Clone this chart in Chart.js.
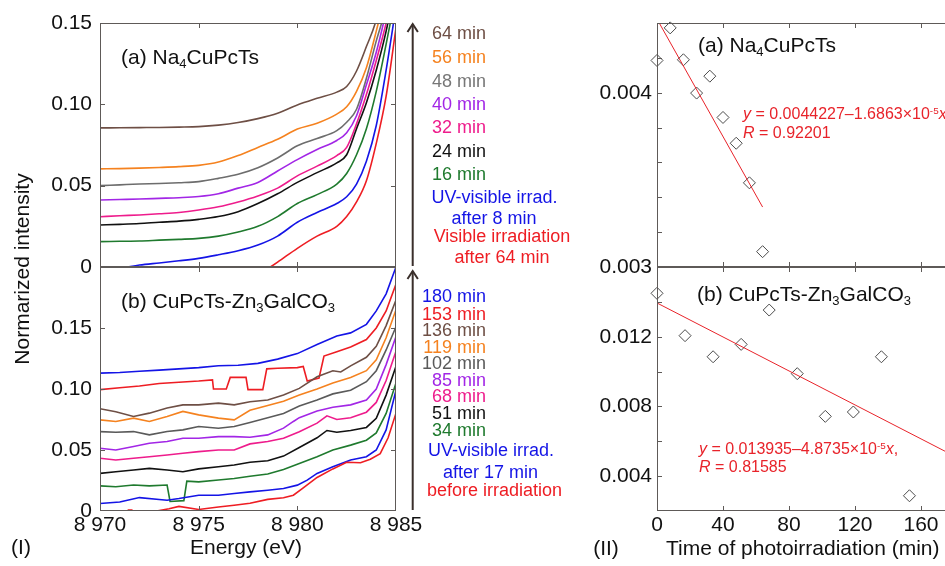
<!DOCTYPE html>
<html>
<head>
<meta charset="utf-8">
<script src="https://cdn.jsdelivr.net/npm/chart.js@4.4.1/dist/chart.umd.min.js"></script>
<style>
html, body { margin: 0; padding: 0; background: #fff; }
body { width: 945px; height: 566px; overflow: hidden; position: relative; font-family: "Liberation Sans", Arial, sans-serif; color: #111; }
canvas { position: absolute; }
.t { position: absolute; white-space: nowrap; line-height: 1.15; }
.c { transform: translate(-50%, -50%); }
.l { transform: translateY(-50%); }
.r { transform: translate(-100%, -50%); }
.t sub { font-size: 0.62em; vertical-align: -0.32em; line-height: 0; }
.t sup { font-size: 0.62em; position: relative; top: -0.55em; vertical-align: baseline; line-height: 0; }
.eq { color: #e8232a; font-size: 16px; }
.lg { font-size: 18px; }
</style>
</head>
<body>

<canvas id="chartTL" width="400" height="280" style="left:0;top:0"></canvas>
<canvas id="chartBL" width="440" height="306" style="left:0;top:260px"></canvas>
<canvas id="chartTR" width="360" height="280" style="left:600px;top:0"></canvas>
<canvas id="chartBR" width="360" height="306" style="left:600px;top:260px"></canvas>

<!-- panahan waktu di samping panel kiri -->
<svg width="945" height="566" style="position:absolute;left:0;top:0" fill="none" stroke="#3a2f2b" stroke-width="2">
  <line x1="412.7" y1="266" x2="412.7" y2="24"/>
  <polyline points="407.5,32 412.7,24 417.9,32"/>
  <line x1="412.7" y1="510" x2="412.7" y2="271"/>
  <polyline points="407.5,279 412.7,271 417.9,279"/>
</svg>

<!-- label panel -->
<div class="t l" style="left:121px;top:57px;font-size:21px">(a) Na<sub>4</sub>CuPcTs</div>
<div class="t l" style="left:121px;top:301px;font-size:21px">(b) CuPcTs-Zn<sub>3</sub>GalCO<sub>3</sub></div>
<div class="t l" style="left:698px;top:45px;font-size:21px">(a) Na<sub>4</sub>CuPcTs</div>
<div class="t l" style="left:697px;top:294px;font-size:21px">(b) CuPcTs-Zn<sub>3</sub>GalCO<sub>3</sub></div>

<!-- legenda atas -->
<div class="t r lg" style="left:486px;top:33px;color:#6e4f45">64 min</div>
<div class="t r lg" style="left:486px;top:57px;color:#f5821f">56 min</div>
<div class="t r lg" style="left:486px;top:81px;color:#777777">48 min</div>
<div class="t r lg" style="left:486px;top:104px;color:#a226e6">40 min</div>
<div class="t r lg" style="left:486px;top:127px;color:#ee1c8c">32 min</div>
<div class="t r lg" style="left:486px;top:151px;color:#111111">24 min</div>
<div class="t r lg" style="left:486px;top:174px;color:#1f7a2e">16 min</div>
<div class="t c lg" style="left:494.5px;top:197px;color:#1414e6">UV-visible irrad.</div>
<div class="t c lg" style="left:494px;top:218px;color:#1414e6">after 8 min</div>
<div class="t c lg" style="left:502px;top:236px;color:#ee1d23">Visible irradiation</div>
<div class="t c lg" style="left:502px;top:257px;color:#ee1d23">after 64 min</div>

<!-- legenda bawah -->
<div class="t r lg" style="left:486px;top:296px;color:#1414e6">180 min</div>
<div class="t r lg" style="left:486px;top:314px;color:#ee1d23">153 min</div>
<div class="t r lg" style="left:486px;top:330px;color:#6e4f45">136 min</div>
<div class="t r lg" style="left:486px;top:347px;color:#f5821f">119 min</div>
<div class="t r lg" style="left:486px;top:363px;color:#5a5a5a">102 min</div>
<div class="t r lg" style="left:486px;top:380px;color:#a226e6">85 min</div>
<div class="t r lg" style="left:486px;top:396px;color:#ee1c8c">68 min</div>
<div class="t r lg" style="left:486px;top:413px;color:#111111">51 min</div>
<div class="t r lg" style="left:486px;top:430px;color:#1f7a2e">34 min</div>
<div class="t c lg" style="left:491px;top:450px;color:#1414e6">UV-visible irrad.</div>
<div class="t c lg" style="left:490.5px;top:472px;color:#1414e6">after 17 min</div>
<div class="t c lg" style="left:494.5px;top:490px;color:#ee1d23">before irradiation</div>

<!-- persamaan regresi -->
<div class="t l eq" style="left:743px;top:114px"><i>y</i> = 0.0044227–1.6863×10<sup>-5</sup><i>x</i></div>
<div class="t l eq" style="left:743px;top:132.5px"><i>R</i> = 0.92201</div>
<div class="t l eq" style="left:699px;top:449px"><i>y</i> = 0.013935–4.8735×10<sup>-5</sup><i>x</i>,</div>
<div class="t l eq" style="left:699px;top:467px"><i>R</i> = 0.81585</div>

<!-- judul sumbu -->
<div class="t c" style="left:22px;top:269px;font-size:21px;transform:translate(-50%,-50%) rotate(-90deg)">Normarized intensity</div>
<div class="t c" style="left:246px;top:547px;font-size:21px">Energy (eV)</div>
<div class="t c" style="left:21px;top:547px;font-size:21px">(I)</div>
<div class="t c" style="left:606px;top:548px;font-size:21px">(II)</div>
<div class="t l" style="left:666px;top:548px;font-size:21px">Time of photoirradiation (min)</div>

<script>
// === DATA PANEL (a): Na4CuPcTs, grid energi bersama ===
const energyA = [8970, 8971, 8972, 8973, 8974, 8975, 8976, 8977, 8978, 8979, 8980, 8981, 8982, 8982.5, 8983, 8983.5, 8984, 8984.5, 8985];
const a64 = [0.0855, 0.0856, 0.0857, 0.0858, 0.086, 0.0863, 0.0872, 0.0888, 0.0912, 0.0945, 0.0996, 0.1037, 0.1075, 0.111, 0.1205, 0.1355, 0.152, 0.18, 0.21];
const a56 = [0.0603, 0.0605, 0.0608, 0.0612, 0.0617, 0.0625, 0.0645, 0.0685, 0.0735, 0.0785, 0.0848, 0.0884, 0.094, 0.0985, 0.108, 0.1225, 0.145, 0.17, 0.2];
const a48 = [0.05, 0.0505, 0.051, 0.0513, 0.0518, 0.0525, 0.0545, 0.057, 0.061, 0.067, 0.0745, 0.079, 0.0838, 0.089, 0.097, 0.116, 0.139, 0.16, 0.19];
const a40 = [0.0412, 0.0415, 0.0418, 0.0422, 0.0426, 0.0433, 0.045, 0.0485, 0.052, 0.059, 0.066, 0.0722, 0.0778, 0.0825, 0.093, 0.112, 0.132, 0.157, 0.185];
const a32 = [0.0309, 0.0315, 0.032, 0.0327, 0.0335, 0.035, 0.037, 0.04, 0.0437, 0.0485, 0.056, 0.062, 0.0685, 0.0735, 0.088, 0.106, 0.127, 0.15, 0.178];
const a24 = [0.0258, 0.0262, 0.0267, 0.0275, 0.0282, 0.0293, 0.031, 0.034, 0.039, 0.045, 0.052, 0.058, 0.064, 0.069, 0.085, 0.101, 0.121, 0.145, 0.175];
const a16 = [0.0156, 0.0158, 0.016, 0.0165, 0.017, 0.0176, 0.019, 0.0215, 0.025, 0.031, 0.039, 0.0445, 0.051, 0.0575, 0.069, 0.085, 0.108, 0.137, 0.168];
const aUV8 = [null, -0.001, 0.0012, 0.0025, 0.0038, 0.0053, 0.0075, 0.01, 0.0135, 0.019, 0.0275, 0.0335, 0.039, 0.0432, 0.051, 0.065, 0.087, 0.121, 0.16];
const aVis64 = [null, null, null, null, null, null, null, null, -0.005, 0.003, 0.0115, 0.019, 0.025, 0.031, 0.04, 0.053, 0.076, 0.105, 0.147];

// === DATA PANEL (b): CuPcTs-Zn3GalCO3, tiap kurva punya titik energi sendiri ===
const bE180 = [8970, 8971, 8972, 8973, 8974, 8975, 8976, 8977, 8978, 8979, 8980, 8981, 8982, 8982.7, 8983.5, 8984, 8984.5, 8985];
const b180 = [0.113, 0.1135, 0.1145, 0.1155, 0.1165, 0.1175, 0.119, 0.1195, 0.121, 0.1245, 0.129, 0.1365, 0.1435, 0.146, 0.153, 0.164, 0.178, 0.2];
const bE153 = [8970, 8971, 8972, 8973, 8974, 8975, 8975.7, 8975.75, 8976.4, 8976.6, 8977.4, 8977.5, 8978.25, 8978.45, 8979, 8980, 8980.3, 8980.5, 8981.1, 8981.35, 8982, 8982.7, 8983.5, 8984, 8984.5, 8985];
const b153 = [0.0995, 0.101, 0.1025, 0.1045, 0.1055, 0.1065, 0.1075, 0.1, 0.1, 0.1095, 0.1095, 0.0995, 0.0995, 0.1165, 0.117, 0.1175, 0.1185, 0.1065, 0.109, 0.127, 0.1305, 0.1345, 0.1405, 0.15, 0.164, 0.186];
const bE136 = [8970, 8970.8, 8971.7, 8972.5, 8973.4, 8974.2, 8975, 8976, 8976.8, 8977.6, 8978.5, 8979.3, 8980.1, 8981, 8981.8, 8982.2, 8982.7, 8983.5, 8984, 8984.5, 8985];
const b136 = [0.0838, 0.0814, 0.0775, 0.0802, 0.0844, 0.087, 0.087, 0.0884, 0.087, 0.0895, 0.091, 0.095, 0.1005, 0.11, 0.115, 0.114, 0.119, 0.126, 0.135, 0.152, 0.173];
const bE119 = [8970, 8970.8, 8971.7, 8972.5, 8973.4, 8974.2, 8975, 8976, 8976.8, 8977.6, 8978.5, 8979.3, 8980.1, 8981, 8981.8, 8982.7, 8983.5, 8984, 8984.5, 8985];
const b119 = [0.0747, 0.0734, 0.0761, 0.0734, 0.0775, 0.0816, 0.0788, 0.0761, 0.0747, 0.0825, 0.0865, 0.09, 0.095, 0.1, 0.105, 0.1095, 0.115, 0.124, 0.142, 0.165];
const bE102 = bE119;
const b102 = [0.0651, 0.0645, 0.0651, 0.0624, 0.0651, 0.0665, 0.0692, 0.0678, 0.0692, 0.0725, 0.0765, 0.08, 0.086, 0.091, 0.096, 0.099, 0.106, 0.115, 0.132, 0.151];
const bE85 = [8970, 8970.8, 8971.7, 8972.5, 8973.4, 8974.2, 8975, 8976, 8976.8, 8977.6, 8978.5, 8979.3, 8979.8, 8980.1, 8981, 8981.8, 8982.7, 8983.5, 8984, 8984.5, 8985];
const b85 = [0.0514, 0.05, 0.0528, 0.0555, 0.0569, 0.0596, 0.0596, 0.061, 0.061, 0.0605, 0.0624, 0.0679, 0.0734, 0.0765, 0.082, 0.085, 0.087, 0.091, 0.1, 0.12, 0.143];
const bE68 = [8970, 8970.8, 8971.7, 8972.5, 8973.4, 8974.2, 8975, 8976, 8976.8, 8977.6, 8978.5, 8979.3, 8980.1, 8981, 8981.5, 8982, 8982.7, 8983.5, 8984, 8984.5, 8985];
const b68 = [0.0432, 0.0418, 0.0432, 0.0445, 0.0459, 0.0473, 0.0487, 0.05, 0.05, 0.055, 0.0569, 0.0596, 0.065, 0.072, 0.078, 0.075, 0.0765, 0.081, 0.089, 0.107, 0.131];
const bE51 = bE68;
const b51 = [0.0308, 0.0322, 0.0336, 0.0349, 0.0336, 0.0322, 0.0345, 0.0363, 0.0377, 0.04, 0.0412, 0.045, 0.052, 0.06, 0.066, 0.0645, 0.066, 0.0685, 0.076, 0.095, 0.1186];
const bE34 = [8970, 8970.8, 8971.7, 8972.5, 8973.4, 8973.55, 8974.25, 8974.4, 8975, 8976, 8976.8, 8977.6, 8978.5, 8979.3, 8980.1, 8981, 8981.8, 8982.7, 8983.5, 8984, 8984.5, 8985];
const b34 = [0.0206, 0.0199, 0.0213, 0.0206, 0.0213, 0.0078, 0.0085, 0.0245, 0.0239, 0.0254, 0.0267, 0.0285, 0.0303, 0.034, 0.039, 0.0445, 0.05, 0.054, 0.058, 0.064, 0.08, 0.105];
const bE17 = [8970, 8971, 8972, 8973, 8973.4, 8974, 8975, 8976, 8976.8, 8977.6, 8978.5, 8979.3, 8980, 8980.5, 8981, 8981.8, 8982.7, 8983.5, 8984, 8984.5, 8985];
const b17 = [0.0062, 0.0074, 0.011, 0.0094, 0.0088, 0.0102, 0.0129, 0.0129, 0.0143, 0.0157, 0.017, 0.0184, 0.0212, 0.0253, 0.0308, 0.0363, 0.0418, 0.0445, 0.05, 0.0665, 0.099];
const bE0 = [8971.4, 8971.65, 8971.7, 8972.87, 8973.5, 8974, 8975, 8976, 8976.8, 8977.6, 8978.5, 8979.3, 8979.8, 8980.3, 8981, 8981.8, 8982.5, 8983.2, 8983.7, 8984.2, 8984.6, 8985];
const b0 = [0.0008, 0.0008, null, 0, 0.0019, 0.0038, 0.0012, 0.0033, 0.0047, 0.0063, 0.0095, 0.0108, 0.0129, 0.019, 0.0275, 0.0345, 0.04, 0.0395, 0.0425, 0.047, 0.06, 0.0802];

// === DATA PANEL (II): kemiringan vs waktu iradiasi ===
const timeA = [0, 8, 16, 24, 32, 40, 48, 56, 64];
const slopeA = [0.004185, 0.004372, 0.004189, 0.003998, 0.004095, 0.003858, 0.00371, 0.003483, 0.003088];
const fitTimeA = [0, 64];
const fitSlopeA = [0.004423, 0.003344];
const timeB = [0, 17, 34, 51, 68, 85, 102, 119, 136, 153];
const slopeB = [0.01449, 0.01206, 0.01085, 0.01156, 0.01353, 0.00988, 0.00743, 0.00768, 0.01085, 0.002875];
const fitTimeB = [0, 180];
const fitSlopeB = [0.013935, 0.005163];

// === LABEL TICK ===
const energyTicks = [8970, 8975, 8980, 8985];
const energyTickText = ['8 970', '8 975', '8 980', '8 985'];
const intensityTicks = [0, 0.05, 0.1, 0.15];
const intensityTickText = ['0', '0.05', '0.10', '0.15'];
const timeTicks = [0, 40, 80, 120, 160];
const timeTickText = ['0', '40', '80', '120', '160'];
const slopeTicksA = [0.003, 0.004];
const slopeTicksAText = ['0.003', '0.004'];
const slopeTicksB = [0.004, 0.008, 0.012];
const slopeTicksBText = ['0.004', '0.008', '0.012'];

// === WARNA ===
const cBrown = '#6e4f45', cOrange = '#f5821f', cGray = '#6d6d6d', cPurple = '#a226e6',
      cMagenta = '#ee1c8c', cBlack = '#111111', cGreen = '#1f7a2e', cBlue = '#1414e6', cRed = '#ee1d23';

Chart.defaults.font.family = '"Liberation Sans", Arial, sans-serif';
Chart.defaults.font.size = 21;
Chart.defaults.color = '#111';

// ubah dua array jadi titik {x, y}
function toPoints(xs, ys) {
    return xs.map((x, i) => ({ x: x, y: ys[i] }));
}

// cari teks label tick dari daftar (kosong jika tidak ada)
function tickLabel(values, texts) {
    return function(v) {
        for (let i = 0; i < values.length; i++) {
            if (Math.abs(v - values[i]) < 1e-9) return texts[i];
        }
        return '';
    };
}

// === PLUGIN: bingkai + tick ke arah dalam ===
const frameTicks = {
    id: 'frameTicks',
    afterDatasetsDraw(chart) {
        const { ctx, chartArea: a, scales } = chart;
        const len = 5;
        ctx.save();
        ctx.strokeStyle = '#5e5a58';
        ctx.lineWidth = 1;
        ctx.strokeRect(a.left + 0.5, a.top + 0.5, a.right - a.left - 1, a.bottom - a.top - 1);
        ctx.beginPath();
        scales.x.ticks.forEach(t => {
            const px = Math.round(scales.x.getPixelForValue(t.value)) + 0.5;
            if (px <= a.left + 2 || px >= a.right - 2) return;
            ctx.moveTo(px, a.bottom); ctx.lineTo(px, a.bottom - len);
            ctx.moveTo(px, a.top); ctx.lineTo(px, a.top + len);
        });
        scales.y.ticks.forEach(t => {
            const py = Math.round(scales.y.getPixelForValue(t.value)) + 0.5;
            if (py <= a.top + 2 || py >= a.bottom - 2) return;
            ctx.moveTo(a.left, py); ctx.lineTo(a.left + len, py);
            ctx.moveTo(a.right, py); ctx.lineTo(a.right - len, py);
        });
        ctx.stroke();
        ctx.restore();
    }
};

function lineSet(xs, ys, color, smooth) {
    return {
        data: toPoints(xs, ys),
        borderColor: color,
        borderWidth: 1.6,
        pointRadius: 0,
        fill: false,
        tension: 0,
        cubicInterpolationMode: smooth ? 'monotone' : 'default'
    };
}

function baseOptions(padding, xCfg, yCfg, xHeight, yWidth) {
    return {
        responsive: false,
        animation: false,
        devicePixelRatio: 1,
        layout: { padding: padding, autoPadding: false },
        plugins: { legend: { display: false }, tooltip: { enabled: false } },
        scales: {
            x: Object.assign({
                type: 'linear',
                grid: { display: false, drawTicks: false },
                border: { display: false },
                afterFit: s => { s.height = xHeight; s.paddingLeft = 0; s.paddingRight = 0; }
            }, xCfg),
            y: Object.assign({
                type: 'linear',
                grid: { display: false, drawTicks: false },
                border: { display: false },
                afterFit: s => { s.width = yWidth; s.paddingTop = 0; s.paddingBottom = 0; }
            }, yCfg)
        }
    };
}

// === 1. PANEL KIRI ATAS ===
new Chart(document.getElementById('chartTL'), {
    type: 'line',
    data: {
        datasets: [
            lineSet(energyA, aVis64, cRed, true),
            lineSet(energyA, aUV8, cBlue, true),
            lineSet(energyA, a16, cGreen, true),
            lineSet(energyA, a24, cBlack, true),
            lineSet(energyA, a32, cMagenta, true),
            lineSet(energyA, a40, cPurple, true),
            lineSet(energyA, a48, cGray, true),
            lineSet(energyA, a56, cOrange, true),
            lineSet(energyA, a64, cBrown, true)
        ]
    },
    options: baseOptions(
        { top: 23, right: 4, bottom: 13, left: 0 },
        { min: 8970, max: 8985, ticks: { display: false, stepSize: 5 } },
        { min: 0, max: 0.15, ticks: { stepSize: 0.05, padding: 8, autoSkip: false, callback: tickLabel(intensityTicks, intensityTickText) } },
        0, 100),
    plugins: [frameTicks]
});

// === 2. PANEL KIRI BAWAH ===
new Chart(document.getElementById('chartBL'), {
    type: 'line',
    data: {
        datasets: [
            lineSet(bE0, b0, cRed, false),
            lineSet(bE17, b17, cBlue, false),
            lineSet(bE34, b34, cGreen, false),
            lineSet(bE51, b51, cBlack, false),
            lineSet(bE68, b68, cMagenta, false),
            lineSet(bE85, b85, cPurple, false),
            lineSet(bE102, b102, '#5a5a5a', false),
            lineSet(bE119, b119, cOrange, false),
            lineSet(bE136, b136, cBrown, false),
            lineSet(bE153, b153, cRed, false),
            lineSet(bE180, b180, cBlue, false)
        ]
    },
    options: baseOptions(
        { top: 7, right: 44, bottom: 0, left: 0 },
        { min: 8970, max: 8985, ticks: { stepSize: 5, padding: 2, autoSkip: false, maxRotation: 0, callback: tickLabel(energyTicks, energyTickText) } },
        { min: 0, max: 0.2, ticks: { stepSize: 0.05, padding: 8, autoSkip: false, callback: tickLabel(intensityTicks, intensityTickText) } },
        55, 100),
    plugins: [frameTicks]
});

// dataset titik berlian + garis fit
function pointSet(xs, ys) {
    return {
        data: toPoints(xs, ys),
        pointStyle: 'rectRot',
        pointRadius: 6,
        borderColor: '#4a4a4a',
        backgroundColor: 'rgba(0,0,0,0)',
        pointBorderWidth: 1,
        showLine: false,
        clip: false
    };
}
function fitSet(xs, ys) {
    return {
        data: toPoints(xs, ys),
        borderColor: '#e8232a',
        borderWidth: 1,
        pointRadius: 0,
        showLine: true
    };
}

// === 3. PANEL KANAN ATAS ===
new Chart(document.getElementById('chartTR'), {
    type: 'scatter',
    data: { datasets: [fitSet(fitTimeA, fitSlopeA), pointSet(timeA, slopeA)] },
    options: baseOptions(
        { top: 23, right: 6, bottom: 13, left: 0 },
        { min: 0, max: 180, ticks: { display: false, stepSize: 40, includeBounds: false } },
        { min: 0.003, max: 0.0044, ticks: { stepSize: 0.0002, padding: 5, autoSkip: false, callback: tickLabel(slopeTicksA, slopeTicksAText) } },
        0, 57),
    plugins: [frameTicks]
});

// === 4. PANEL KANAN BAWAH ===
new Chart(document.getElementById('chartBR'), {
    type: 'scatter',
    data: { datasets: [fitSet(fitTimeB, fitSlopeB), pointSet(timeB, slopeB)] },
    options: baseOptions(
        { top: 7, right: 6, bottom: 0, left: 0 },
        { min: 0, max: 180, ticks: { stepSize: 40, padding: 2, autoSkip: false, maxRotation: 0, includeBounds: false, callback: tickLabel(timeTicks, timeTickText) } },
        { min: 0.002, max: 0.016, ticks: { stepSize: 0.002, padding: 5, autoSkip: false, callback: tickLabel(slopeTicksB, slopeTicksBText) } },
        55, 57),
    plugins: [frameTicks]
});
</script>
</body>
</html>
